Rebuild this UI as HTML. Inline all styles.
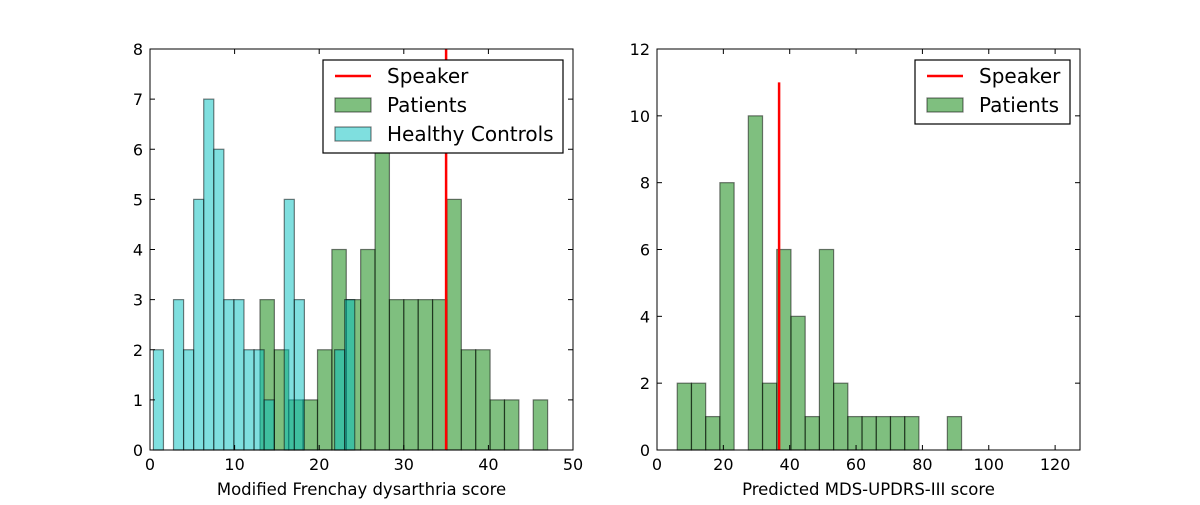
<!DOCTYPE html>
<html><head><meta charset="utf-8"><style>
body{margin:0;background:#fff;width:1200px;height:500px;overflow:hidden}
text{font-family:"DejaVu Sans","Liberation Sans",sans-serif;fill:#000}
</style></head><body>
<svg id="c" width="1200" height="500" xmlns="http://www.w3.org/2000/svg"></svg>
<script>
const leftPatientCounts=[3,2,1,1,2,4,3,4,6,3,3,3,3,5,2,2,1,1,0,1];
const leftPatientStart=13, leftPatientWidth=1.7;
const leftHealthyCounts=[2,0,3,2,5,7,6,3,3,2,2,1,0,5,3,0,0,0,2,3];
const leftHealthyStart=0.4, leftHealthyWidth=1.19;
const leftSpeaker=35;
const leftXTicks=[0,10,20,30,40,50];
const leftYTicks=[0,1,2,3,4,5,6,7,8];
const rightPatientCounts=[2,2,1,8,0,10,2,6,4,1,6,2,1,1,1,1,1,0,0,1];
const rightPatientStart=6.1, rightPatientWidth=4.285;
const rightSpeaker=36.8, rightSpeakerHeight=11;
const rightXTicks=[0,20,40,60,80,100,120];
const rightYTicks=[0,2,4,6,8,10,12];
const NS="http://www.w3.org/2000/svg";
const svg=document.getElementById('c');
function el(t,a,p){const e=document.createElementNS(NS,t);for(const k in a)e.setAttribute(k,a[k]);(p||svg).appendChild(e);return e;}
function panel(o){
  const g=el('g',{});
  
  
  const sx=v=>o.x0+(v-o.xmin)/(o.xmax-o.xmin)*(o.x1-o.x0);
  const sy=v=>o.y0-(v-o.ymin)/(o.ymax-o.ymin)*(o.y0-o.y1);
  o.series.forEach(s=>{
    s.counts.forEach((c,i)=>{
      if(!c)return;
      const a=sx(s.start+i*s.width), b=sx(s.start+(i+1)*s.width);
      const r=el('rect',{x:a,y:sy(c),width:b-a,height:sy(0)-sy(c),fill:s.color,'fill-opacity':0.5,stroke:'#000','stroke-opacity':0.5,'stroke-width':1.2},g);
      
      
    });
  });
  const ln=el('line',{x1:sx(o.speaker),x2:sx(o.speaker),y1:sy(0),y2:o.speakerH!=null?sy(o.speakerH):o.y1,stroke:'#f00','stroke-width':2.5},g);
  
  
  el('rect',{x:o.x0,y:o.y1,width:o.x1-o.x0,height:o.y0-o.y1,fill:'none',stroke:'#000','stroke-width':1},g);
  o.xt.forEach(v=>{
    const x=sx(v);
    el('line',{x1:x,x2:x,y1:o.y0,y2:o.y0-5,stroke:'#000'},g);
    el('line',{x1:x,x2:x,y1:o.y1,y2:o.y1+5,stroke:'#000'},g);
    const t=el('text',{x:x,y:o.y0+20,'text-anchor':'middle','font-size':16},g);t.textContent=v;
    
    
  });
  o.yt.forEach(v=>{
    const y=sy(v);
    el('line',{x1:o.x0,x2:o.x0+5,y1:y,y2:y,stroke:'#000'},g);
    el('line',{x1:o.x1,x2:o.x1-5,y1:y,y2:y,stroke:'#000'},g);
    const t=el('text',{x:o.x0-7,y:y+6,'text-anchor':'end','font-size':16},g);t.textContent=v;
    
    
  });
  const xl=el('text',{x:(o.x0+o.x1)/2,y:495,'text-anchor':'middle','font-size':16.5},g);xl.textContent=o.xlabel;
  
  
  const L=o.legend;
  const lg=el('g',{},g);
  
  
  el('rect',{x:L.x,y:L.y,width:L.w,height:L.h,fill:'#fff',stroke:'#000','stroke-width':1.2},lg);
  L.items.forEach((it,i)=>{
    const cy=L.y+16+i*29;
    if(it.line){el('line',{x1:L.x+12,x2:L.x+48,y1:cy,y2:cy,stroke:'#f00','stroke-width':2.5},lg);}
    else el('rect',{x:L.x+12,y:cy-7,width:36,height:14,fill:it.color,'fill-opacity':0.5,stroke:'#000','stroke-opacity':0.5,'stroke-width':1.2},lg);
    const t=el('text',{x:L.x+64,y:cy+7,'font-size':20},lg);t.textContent=it.label;
    
    
  });
}
panel({name:'left-panel',x0:150,x1:573,y0:450,y1:49,xmin:0,xmax:50,ymin:0,ymax:8,
  series:[{key:'patients',counts:leftPatientCounts,start:leftPatientStart,width:leftPatientWidth,color:'#008000'},
          {key:'healthy',counts:leftHealthyCounts,start:leftHealthyStart,width:leftHealthyWidth,color:'#00bfbf'}],
  speaker:leftSpeaker,xt:leftXTicks,yt:leftYTicks,xlabel:'Modified Frenchay dysarthria score',
  legend:{x:323,y:60,w:240,h:93,items:[{line:1,label:'Speaker'},{color:'#008000',label:'Patients'},{color:'#00bfbf',label:'Healthy Controls'}]}});
panel({name:'right-panel',x0:657,x1:1080,y0:450,y1:49,xmin:0,xmax:127.5,ymin:0,ymax:12,
  series:[{key:'patients',counts:rightPatientCounts,start:rightPatientStart,width:rightPatientWidth,color:'#008000'}],
  speaker:rightSpeaker,speakerH:rightSpeakerHeight,xt:rightXTicks,yt:rightYTicks,xlabel:'Predicted MDS-UPDRS-III score',
  legend:{x:915,y:60,w:155,h:64,items:[{line:1,label:'Speaker'},{color:'#008000',label:'Patients'}]}});
</script>
</body></html>
